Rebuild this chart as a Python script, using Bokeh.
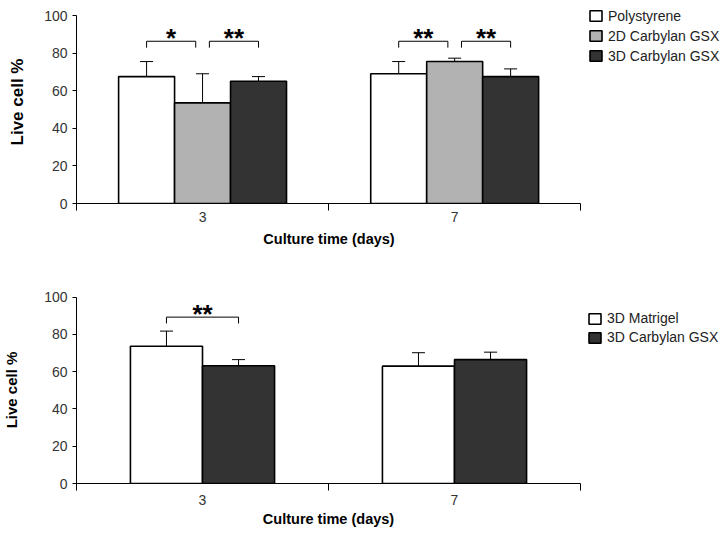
from bokeh.plotting import figure
from bokeh.models import (Range1d, FixedTicker, Legend, LegendItem, Whisker,
                          TeeHead, ColumnDataSource, Title)
from bokeh.layouts import column
from bokeh.embed import file_html
from bokeh.resources import INLINE
from bokeh.core.properties import value

# ---------------- data ----------------
days = ["3", "7"]

# top panel
top_series = ["Polystyrene", "2D Carbylan GSX", "3D Carbylan GSX"]
polystyrene = [67.5, 69.0]
polystyrene_err = [8.0, 6.5]
carbylan_2d = [53.5, 75.5]
carbylan_2d_err = [15.5, 1.8]
carbylan_3d_top = [65.0, 67.5]
carbylan_3d_top_err = [2.5, 4.1]
top_sig_day = ["3", "3", "7", "7"]
top_sig_a = [0, 1, 0, 1]
top_sig_b = [1, 2, 1, 2]
top_sig_label = ["*", "**", "**", "**"]

# bottom panel
bottom_series = ["3D Matrigel", "3D Carbylan GSX"]
matrigel_3d = [73.7, 63.0]
matrigel_3d_err = [8.1, 7.2]
carbylan_3d_bot = [63.2, 66.5]
carbylan_3d_bot_err = [3.3, 4.0]
bot_sig_day = ["3"]
bot_sig_a = [0]
bot_sig_b = [1]
bot_sig_label = ["**"]

y_ticks = [0, 20, 40, 60, 80, 100]
x_title = "Culture time (days)"
y_title = "Live cell %"

FONT = "Liberation Sans"
FW = 728


def make_panel(series, means, errs, colors, bar_w, sig_day, sig_a, sig_b, sig_label,
               bracket_y, fig_top, height, frame_left, frame_top, axis_right,
               zero_y, hundred_y, ytitle_size, ytitle_standoff,
               tick_standoff, xtitle_standoff, legend_top, label_h):
    min_left = int(frame_left)
    min_top = int(frame_top - fig_top)
    frame_h = int(zero_y - frame_top)
    min_bottom = int(height - min_top - frame_h)
    px_x = (axis_right - frame_left) / len(days)
    x_end = (FW - frame_left) / px_x
    y_end = 100.0 * (zero_y - frame_top) / (zero_y - hundred_y)
    p = figure(width=FW, height=int(height), x_range=Range1d(0, x_end),
               y_range=Range1d(0, y_end), output_backend="svg", toolbar_location=None,
               min_border_left=min_left, min_border_right=0,
               min_border_top=min_top, min_border_bottom=min_bottom)
    p.outline_line_color = None
    p.grid.visible = False
    p.background_fill_color = "white"
    p.border_fill_color = "white"

    n = len(series)
    offsets = [(i - (n - 1) / 2) * bar_w for i in range(n)]
    centers = [i + 0.5 for i in range(len(days))]

    renderers = []
    for k in range(n):
        xs = [c + offsets[k] for c in centers]
        src = ColumnDataSource(dict(x=xs, top=means[k],
                                    upper=[m + e for m, e in zip(means[k], errs[k])]))
        r = p.vbar(x="x", top="top", width=bar_w, source=src, fill_color=colors[k],
                   line_color="black", line_width=1.6)
        renderers.append(r)
        w = Whisker(base="x", upper="upper", lower="top", source=src, dimension="height",
                    line_color="black", line_width=1,
                    upper_head=TeeHead(size=13, line_color="black", line_width=1),
                    lower_head=None)
        p.add_layout(w)

    # significance brackets
    used = {}
    for d, a, b in zip(sig_day, sig_a, sig_b):
        used[(d, a)] = used.get((d, a), 0) + 1
        used[(d, b)] = used.get((d, b), 0) + 1
    inset = 0.027
    bx, by, tx, ty, tt = [], [], [], [], []
    leg = 3.4
    for d, a, b, lab in zip(sig_day, sig_a, sig_b, sig_label):
        c = centers[days.index(d)]
        x0 = c + offsets[a] + (inset if used[(d, a)] > 1 else 0)
        x1 = c + offsets[b] - (inset if used[(d, b)] > 1 else 0)
        bx.append([x0, x0, x1, x1])
        by.append([bracket_y - leg, bracket_y, bracket_y, bracket_y - leg])
        tx.append((x0 + x1) / 2)
        ty.append(bracket_y)
        tt.append(lab)
    p.multi_line(xs=bx, ys=by, line_color="black", line_width=1)
    p.text(x=tx, y=ty, text=tt, text_font=value(FONT), text_font_style="bold",
           text_font_size="26px", text_align="center", text_baseline="alphabetic",
           y_offset=-3, text_color="black")

    # axes
    xa = p.xaxis[0]
    xa.bounds = (0, len(days))
    xa.ticker = FixedTicker(ticks=centers, minor_ticks=list(range(len(days) + 1)))
    xa.major_label_overrides = {c: d for c, d in zip(centers, days)}
    xa.major_tick_line_color = None
    xa.major_tick_out = 0
    xa.minor_tick_in = 0
    xa.minor_tick_out = 7
    xa.minor_tick_line_color = "black"
    xa.axis_line_color = "black"
    xa.major_label_text_font = FONT
    xa.major_label_text_font_size = "14px"
    xa.major_label_text_color = "#333333"
    xa.major_label_standoff = tick_standoff

    # x title centred under the axis (not under the widened frame)
    tw = 9.057 * 14.5
    xt = Title(text=x_title, align="left",
               offset=((axis_right - frame_left) / 2.0 - tw / 2.0),
               text_font=FONT, text_font_style="bold", text_font_size="14.5px",
               text_color="black", standoff=xtitle_standoff)
    p.add_layout(xt, "below")

    ya = p.yaxis[0]
    ya.bounds = (0, 100)
    ya.ticker = FixedTicker(ticks=y_ticks)
    ya.minor_tick_line_color = None
    ya.major_tick_in = 0
    ya.major_tick_out = 4
    ya.axis_line_color = "black"
    ya.major_tick_line_color = "black"
    ya.major_label_text_font = FONT
    ya.major_label_text_font_size = "14px"
    ya.major_label_text_color = "#333333"
    ya.major_label_standoff = 5
    ya.axis_label = y_title
    ya.axis_label_text_font = FONT
    ya.axis_label_text_font_style = "bold"
    ya.axis_label_text_font_size = ytitle_size
    ya.axis_label_text_color = "black"
    ya.axis_label_standoff = ytitle_standoff

    # legend to the right of the bars (inside the widened frame)
    lh = label_h * n
    legend = Legend(items=[LegendItem(label=s, renderers=[r]) for s, r in zip(series, renderers)],
                    location=(587 - frame_left, zero_y - (legend_top + lh)),
                    orientation="vertical", padding=0, margin=0, spacing=0,
                    label_height=label_h, glyph_height=13, glyph_width=15,
                    label_standoff=5, border_line_color=None, background_fill_alpha=0,
                    label_text_font=FONT, label_text_font_size="14px",
                    label_text_color="#222222")
    p.add_layout(legend)
    return p


top = make_panel(top_series,
                 [polystyrene, carbylan_2d, carbylan_3d_top],
                 [polystyrene_err, carbylan_2d_err, carbylan_3d_top_err],
                 ["#ffffff", "#b2b2b2", "#333333"], 0.222,
                 top_sig_day, top_sig_a, top_sig_b, top_sig_label,
                 86.3, 0, 262, 75, 0, 580, 203, 15, "17px", 14, 1, 9, 5.7, 20)

bottom = make_panel(bottom_series,
                    [matrigel_3d, carbylan_3d_bot],
                    [matrigel_3d_err, carbylan_3d_bot_err],
                    ["#ffffff", "#333333"], 0.286,
                    bot_sig_day, bot_sig_a, bot_sig_b, bot_sig_label,
                    89.3, 262, 271, 76, 296, 580, 483, 296.7, "15px", 21, 4, 3, 308.5, 19)

layout = column(top, bottom)
open("out.html", "w").write(file_html(layout, INLINE))
